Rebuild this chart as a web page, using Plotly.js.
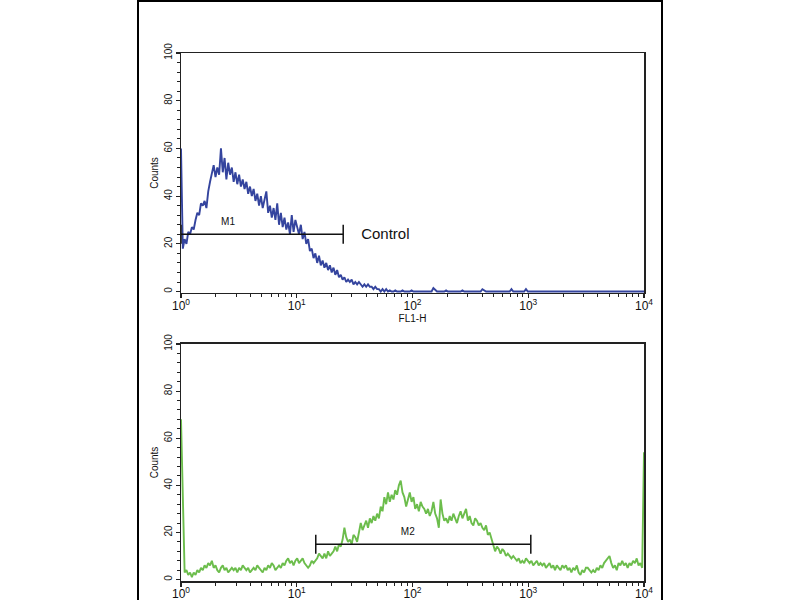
<!DOCTYPE html>
<html>
<head>
<meta charset="utf-8">
<script src="https://cdn.plot.ly/plotly-3.0.1.min.js"></script>
<style>html,body{margin:0;padding:0;background:#fff;}#chart{width:800px;height:600px;}</style>
</head>
<body>
<div id="chart"></div>
<script>
// Histogram counts per channel (256 log channels spanning 10^0..10^4)
const controlCounts = [
60,18,22,20,25,24,27,26,30,33,32,37,36,38,35,42,46,50,53,48,52,49,60,50,56,47,54,49,52,46,50,45,
49,44,47,43,46,41,44,40,43,38,41,36,40,35,38,42,33,36,31,35,30,37,28,33,27,31,26,29,24,32,25,30,
27,24,28,22,25,20,22,17,18,14,16,12,15,11,13,10,12,9,11,8,10,7,9,6,7,5,6,4,5,4,5,3,
4,3,4,3,2,3,2,3,2,2,1,2,1,1,0,1,0,1,0,0.5,0,0,0.5,0,0,0,0.5,0,0,0,0,0.5,
0,0,0,0,0,0,0,0,0,0,0,1.5,0.5,0,0,0,0,0,0.5,0,0,0,0,0,0,0,0,0.5,0,0,0,0,
0,0,0,0,0,0,1,0.5,0,0,0,0,0,0,0,0,0,0,0,0,0,0,1,0,0,0,0,0,0,0,1,0,
0,0,0,0,0,0,0,0,0,0,0,0,0,0,0,0,0,0,0,0,0,0,0,0,0,0,0,0,0,0,0,0,
0,0,0,0,0,0,0,0,0,0,0,0,0,0,0,0,0,0,0,0,0,0,0,0,0,0,0,0,0,0,0,0
];
const sampleCounts = [
68,35,3,4,2,3,1,3,2,4,3,5,4,6,5,7,6,8,5,6,4,3,5,6,4,5,3,4,5,4,5,3,
5,4,6,5,4,5,3,4,5,4,6,5,4,3,5,4,6,5,7,6,4,5,6,5,7,6,8,9,7,8,6,8,
9,7,8,9,7,6,5,6,8,7,8,9,11,10,9,11,9,12,10,11,12,14,12,15,14,17,22,18,16,17,15,19,
18,16,20,24,21,23,25,22,26,24,27,25,28,26,31,29,35,32,37,33,36,34,38,36,40,42,37,35,31,34,37,33,
35,30,32,29,33,31,30,28,30,27,29,33,28,26,22,34,28,25,26,24,27,25,28,26,24,27,29,26,28,30,25,27,
24,23,26,25,23,24,22,21,23,19,20,17,15,12,14,13,11,13,12,10,11,10,9,10,9,8,9,7,8,7,9,8,
7,8,6,7,8,6,7,6,7,5,6,7,5,6,4,6,5,4,6,5,6,4,5,3,5,4,6,3,2,4,3,5,
5,4,3,4,3,5,4,6,5,7,8,9,10,7,5,6,4,7,6,8,6,7,5,7,6,8,7,9,6,7,5,54
];
// Marker gates
const m1Range = [1, 25.2];
const m1Level = 24;
const m2Range = [14.6, 1052];
const m2Level = 15;
const m1Label = {x: 2.55, y: 29, text: 'M1'};
const m2Label = {x: 91, y: 20, text: 'M2'};
const controlLabel = {x: 36, y: 23.5, text: 'Control'};
const xTickVals = [1, 10, 100, 1000, 10000];
const xTickText = ['10<sup>0</sup>','10<sup>1</sup>','10<sup>2</sup>','10<sup>3</sup>','10<sup>4</sup>'];
const yTickVals = [0, 20, 40, 60, 80, 100];

const nCh = controlCounts.length;
const channels = controlCounts.map((_, k) => Math.pow(10, 4 * k / (nCh - 1)));

function gate(range, level, xa, ya) {
  const h = 4;
  return {
    x: [range[0], range[0], null, range[0], range[1], null, range[1], range[1]],
    y: [level - h, level + h, null, level, level, null, level - h, level + h],
    mode: 'lines', line: {color: '#111', width: 1.5},
    xaxis: xa, yaxis: ya, hoverinfo: 'skip', showlegend: false, cliponaxis: false
  };
}
function label(l, xa, ya, size, pos) {
  return {x: [l.x], y: [l.y], text: [l.text], mode: 'text', textposition: pos,
    textfont: {size: size, color: '#111', family: 'Liberation Sans, Arial, sans-serif'},
    xaxis: xa, yaxis: ya, showlegend: false, hoverinfo: 'skip', cliponaxis: false};
}

const traces = [
  {x: channels, y: controlCounts, mode: 'lines', line: {color: '#34449e', width: 1.9},
   xaxis: 'x', yaxis: 'y', showlegend: false},
  {x: channels, y: sampleCounts, mode: 'lines', line: {color: '#6cbd4c', width: 1.9},
   xaxis: 'x2', yaxis: 'y2', showlegend: false},
  gate(m1Range, m1Level, 'x', 'y'),
  gate(m2Range, m2Level, 'x2', 'y2'),
  label(m1Label, 'x', 'y', 10, 'middle center'),
  label(controlLabel, 'x', 'y', 15, 'middle right'),
  label(m2Label, 'x2', 'y2', 10, 'middle center')
];

const lineCol = '#222';
function xAxis(anchor, title) {
  return {
    type: 'log', range: [0, 4], anchor: anchor,
    tickvals: xTickVals, ticktext: xTickText,
    ticks: 'outside', ticklen: 4, tickwidth: 1.2, tickcolor: lineCol,
    ticklabelstandoff: -3,
    minor: {dtick: 'D1', ticks: 'outside', ticklen: 3, tickwidth: 1, tickcolor: lineCol, showgrid: false},
    showline: true, mirror: true, linecolor: lineCol, linewidth: 1.5,
    showgrid: false, zeroline: false,
    tickfont: {size: 12, color: '#111', family: 'Liberation Sans, Arial, sans-serif'},
    title: {text: title, standoff: 0, font: {size: 10, color: '#111', family: 'Liberation Sans, Arial, sans-serif'}}
  };
}
function yAxis(anchor, domain) {
  return {
    range: [-0.6, 100], domain: domain, anchor: anchor,
    tickvals: yTickVals, tickangle: -90,
    ticks: 'outside', ticklen: 4, tickwidth: 1.2, tickcolor: lineCol,
    minor: {dtick: 4, ticks: 'outside', ticklen: 3, tickwidth: 1, tickcolor: lineCol, showgrid: false},
    showline: true, mirror: true, linecolor: lineCol, linewidth: 1.5,
    showgrid: false, zeroline: false,
    tickfont: {size: 10, color: '#111', family: 'Liberation Sans, Arial, sans-serif'},
    title: {text: 'Counts', standoff: 2, font: {size: 10, color: '#111', family: 'Liberation Sans, Arial, sans-serif'}}
  };
}

const layout = {
  width: 800, height: 600,
  margin: {l: 181, r: 156, t: 53, b: 19},
  paper_bgcolor: '#fff', plot_bgcolor: '#fff',
  xaxis: xAxis('y', 'FL1-H'),
  yaxis: yAxis('x', [0.5455, 1]),
  xaxis2: xAxis('y2', ''),
  yaxis2: yAxis('x2', [0, 0.4489]),
  shapes: [
    {type: 'rect', xref: 'paper', yref: 'paper',
     x0: (138 - 181) / 463, x1: (662 - 181) / 463,
     y0: -19 / 528 - 0.05, y1: (581 - 1) / 528,
     line: {color: '#000', width: 2}, fillcolor: 'rgba(0,0,0,0)', layer: 'below'}
  ],
  showlegend: false
};

Plotly.newPlot('chart', traces, layout, {staticPlot: true, displayModeBar: false});
</script>
</body>
</html>
